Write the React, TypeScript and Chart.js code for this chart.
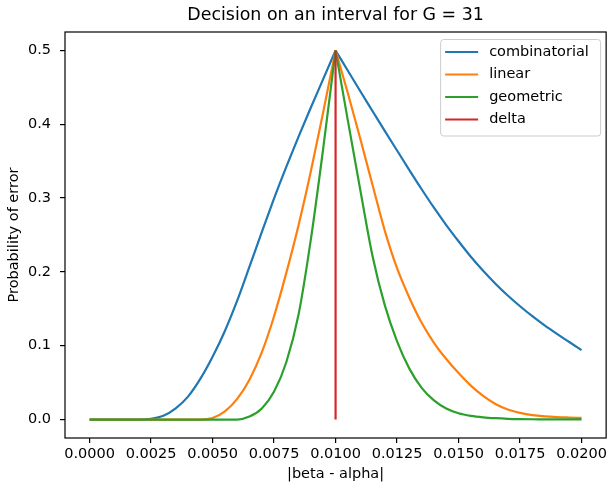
import { useEffect, useRef } from "react";
import { Chart, registerables } from "chart.js";

Chart.register(...registerables);

const TITLE = "Decision on an interval for G = 31";
const X_LABEL = "|beta - alpha|";
const Y_LABEL = "Probability of error";

const X_TICKS = [0, 0.0025, 0.005, 0.0075, 0.01, 0.0125, 0.015, 0.0175, 0.02];
const Y_TICKS = [0, 0.1, 0.2, 0.3, 0.4, 0.5];

const xValues = [
  0, 0.0005, 0.001, 0.0015, 0.002, 0.0025, 0.003, 0.0035, 0.004, 0.0045,
  0.005, 0.0055, 0.006, 0.0065, 0.007, 0.0075, 0.008, 0.0085, 0.009, 0.0095,
  0.01,
  0.0105, 0.011, 0.0115, 0.012, 0.0125, 0.013, 0.0135, 0.014, 0.0145, 0.015,
  0.0155, 0.016, 0.0165, 0.017, 0.0175, 0.018, 0.0185, 0.019, 0.0195, 0.02,
];

const combinatorial = [
  0, 0, 0, 0, 0, 0.001, 0.005, 0.015, 0.031, 0.055,
  0.085, 0.12, 0.161, 0.207, 0.254, 0.2995, 0.3425, 0.3835, 0.423, 0.4615,
  0.5,
  0.4725, 0.445, 0.418, 0.391, 0.3645, 0.338, 0.312, 0.287, 0.2635, 0.2415,
  0.2205, 0.2015, 0.184, 0.168, 0.1535, 0.14, 0.1275, 0.116, 0.105, 0.094,
];

const linear = [
  0, 0, 0, 0, 0, 0, 0, 0, 0, 0,
  0.002, 0.011, 0.028, 0.054, 0.091, 0.14, 0.199, 0.264, 0.337, 0.417,
  0.5,
  0.442, 0.381, 0.318, 0.256, 0.205, 0.165, 0.131, 0.104, 0.082, 0.063,
  0.046, 0.032, 0.021, 0.0135, 0.009, 0.006, 0.0043, 0.0033, 0.0027, 0.0022,
];

const geometric = [
  0, 0, 0, 0, 0, 0, 0, 0, 0, 0,
  0, 0, 0, 0.004, 0.015, 0.038, 0.078, 0.143, 0.245, 0.368,
  0.5,
  0.405, 0.312, 0.222, 0.155, 0.106, 0.069, 0.043, 0.026, 0.015, 0.0085,
  0.005, 0.003, 0.0018, 0.001, 0.0006, 0.0004, 0.0003, 0.0002, 0.0001, 0.0001,
];

const deltaX = [0.01, 0.01];
const deltaY = [0, 0.5];

const SERIES_NAMES = ["combinatorial", "linear", "geometric", "delta"];
const COLORS = ["#1f77b4", "#ff7f0e", "#2ca02c", "#d62728"];
const PEAK_INDEX = 20;

const FONT = '"DejaVu Sans", sans-serif';
const FS = 14.5;

function halves(ys: number[]) {
  const left = xValues.slice(0, PEAK_INDEX + 1).map((x, i) => ({ x, y: ys[i] }));
  const right = xValues.slice(PEAK_INDEX).map((x, i) => ({ x, y: ys[PEAK_INDEX + i] }));
  return [left, right];
}

const framePlugin = {
  id: "frameLegendTitle",
  afterDatasetsDraw(chart: any) {
    const { ctx, chartArea: a } = chart;
    ctx.save();
    ctx.strokeStyle = "#000";
    ctx.lineWidth = 1.2;
    ctx.strokeRect(a.left, a.top, a.right - a.left, a.bottom - a.top);

    const bw = 160;
    const bh = 96.5;
    const bx = a.right - 6 - bw;
    const by = a.top + 7;
    ctx.beginPath();
    ctx.roundRect(bx + 0.5, by + 0.5, bw, bh, 3);
    ctx.fillStyle = "rgba(255,255,255,0.8)";
    ctx.fill();
    ctx.strokeStyle = "#cccccc";
    ctx.lineWidth = 1;
    ctx.stroke();
    ctx.font = `${FS}px ${FONT}`;
    ctx.textBaseline = "middle";
    ctx.textAlign = "left";
    SERIES_NAMES.forEach((name, i) => {
      const y = by + 13 + i * 22.5;
      ctx.strokeStyle = COLORS[i];
      ctx.lineWidth = 2.2;
      ctx.beginPath();
      ctx.moveTo(bx + 5, y);
      ctx.lineTo(bx + 38, y);
      ctx.stroke();
      ctx.fillStyle = "#000";
      ctx.fillText(name, bx + 49, y);
    });

    ctx.font = `17.4px ${FONT}`;
    ctx.textAlign = "center";
    ctx.textBaseline = "alphabetic";
    ctx.fillStyle = "#000";
    ctx.fillText(TITLE, (a.left + a.right) / 2, 20);
    ctx.restore();
  },
};

export default function App() {
  const ref = useRef<HTMLCanvasElement>(null);

  useEffect(() => {
    const series = [combinatorial, linear, geometric];
    const datasets: any[] = [];
    series.forEach((ys, idx) => {
      halves(ys).forEach((data) => {
        datasets.push({
          label: SERIES_NAMES[idx],
          data,
          borderColor: COLORS[idx],
          backgroundColor: COLORS[idx],
          borderWidth: 2.2,
          pointRadius: 0,
          fill: false,
          cubicInterpolationMode: "monotone",
          order: 3 - idx,
        });
      });
    });
    datasets.push({
      label: SERIES_NAMES[3],
      data: deltaX.map((x, i) => ({ x, y: deltaY[i] })),
      borderColor: COLORS[3],
      backgroundColor: COLORS[3],
      borderWidth: 2.2,
      pointRadius: 0,
      fill: false,
      order: 0,
    });

    const tickFont = { family: FONT, size: FS };
    const chart = new Chart(ref.current!, {
      type: "line",
      data: { datasets },
      options: {
        animation: false,
        responsive: false,
        devicePixelRatio: 1,
        layout: { padding: { top: 32, right: 2, bottom: 0, left: 0 } },
        plugins: {
          legend: { display: false },
          title: { display: false },
          tooltip: { enabled: false },
        },
        scales: {
          x: {
            type: "linear",
            min: -0.001,
            max: 0.021,
            afterBuildTicks: (s: any) => {
              s.ticks = X_TICKS.map((v) => ({ value: v }));
            },
            afterFit: (s: any) => {
              s.height = 51;
            },
            grid: { drawOnChartArea: false, drawTicks: true, tickLength: 5, color: "#000", lineWidth: 1.2 },
            border: { display: false },
            ticks: {
              color: "#000",
              font: tickFont,
              padding: 3,
              maxRotation: 0,
              autoSkip: false,
              callback: (v: any) => Number(v).toFixed(4),
            },
            title: {
              display: true,
              text: X_LABEL,
              color: "#000",
              font: tickFont,
              padding: { top: 0, bottom: 6 },
            },
          },
          y: {
            type: "linear",
            min: -0.025,
            max: 0.525,
            afterBuildTicks: (s: any) => {
              s.ticks = Y_TICKS.map((v) => ({ value: v }));
            },
            afterFit: (s: any) => {
              s.width = 65;
            },
            grid: { drawOnChartArea: false, drawTicks: true, tickLength: 5, color: "#000", lineWidth: 1.2 },
            border: { display: false },
            ticks: {
              color: "#000",
              font: tickFont,
              padding: 9,
              callback: (v: any) => Number(v).toFixed(1),
            },
            title: {
              display: true,
              text: Y_LABEL,
              color: "#000",
              font: tickFont,
              padding: { top: 6, bottom: 0 },
            },
          },
        },
      },
      plugins: [framePlugin],
    } as any);
    return () => chart.destroy();
  }, []);

  return (
    <div style={{ position: "fixed", left: 0, top: 0, width: 610, height: 489, background: "#fff" }}>
      <canvas ref={ref} width={610} height={489} style={{ display: "block" }} />
    </div>
  );
}
